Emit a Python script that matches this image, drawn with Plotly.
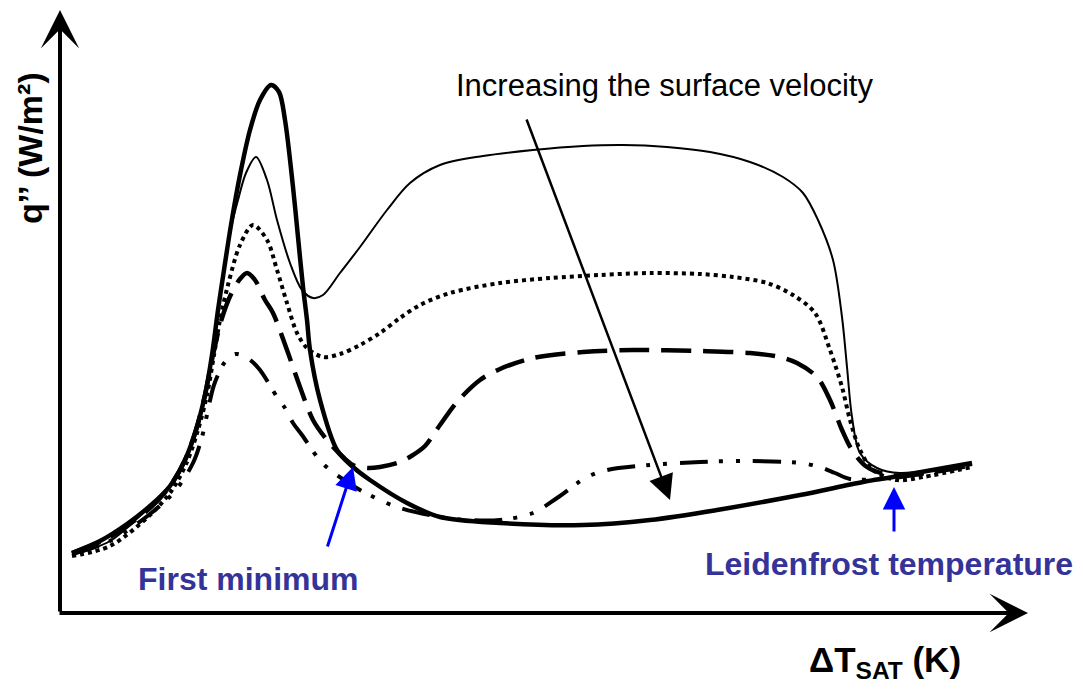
import plotly.graph_objects as go

# Schematic boiling curve: q'' vs ΔT_SAT (arbitrary units)
thick_x = [12, 40, 67, 90, 110, 125, 136, 145, 152, 158, 164, 171, 180, 190, 200, 211, 219, 225, 233, 238, 243, 247, 250, 260, 277, 293, 310, 347, 380, 440, 523, 590, 657, 740, 803, 833, 912]
thick_y = [60, 72, 89, 107, 127, 153, 183, 218, 258, 303, 343, 388, 438, 483, 513, 528, 521, 493, 426, 376, 326, 293, 263, 213, 163, 146, 133, 110, 96, 90, 88, 93, 103, 118, 131, 136, 150]

thin_x = [12, 50, 90, 110, 125, 136, 145, 152, 158, 164, 171, 178, 186, 196, 207, 217, 230, 242, 253, 263, 280, 300, 327, 350, 380, 423, 473, 523, 563, 607, 650, 690, 723, 743, 758, 773, 782, 787, 792, 800, 817, 840, 912]
thin_y = [58, 72, 107, 127, 153, 183, 218, 258, 303, 343, 385, 413, 440, 456, 433, 393, 350, 323, 315, 318, 340, 366, 403, 430, 448, 457, 463, 467, 468, 466, 461, 451, 436, 420, 393, 353, 296, 246, 196, 160, 145, 140, 150]

dot_x = [12, 50, 90, 112, 127, 138, 147, 154, 160, 168, 180, 193, 207, 217, 227, 237, 247, 263, 280, 300, 320, 340, 360, 390, 440, 490, 540, 590, 640, 673, 707, 733, 755, 770, 782, 790, 800, 813, 837, 863, 912]
dot_y = [57, 67, 98, 123, 151, 183, 218, 258, 293, 328, 368, 388, 373, 343, 310, 280, 265, 256, 259, 268, 280, 295, 308, 320, 330, 335, 338, 340, 339, 336, 330, 318, 300, 263, 226, 193, 163, 143, 133, 136, 146]

dash_x = [12, 50, 90, 110, 125, 136, 145, 153, 162, 172, 180, 187, 195, 205, 213, 227, 240, 253, 267, 283, 293, 307, 320, 340, 353, 365, 380, 397, 420, 440, 473, 523, 573, 640, 690, 720, 737, 757, 770, 782, 792, 807, 830, 860, 912]
dash_y = [60, 76, 105, 127, 153, 183, 218, 258, 295, 321, 334, 340, 333, 313, 300, 263, 226, 193, 173, 156, 148, 145, 146, 151, 158, 167, 188, 211, 233, 244, 255, 261, 263, 262, 260, 256, 250, 236, 213, 183, 163, 146, 138, 139, 148]

dd_x = [12, 50, 90, 115, 133, 142, 148, 154, 165, 176, 190, 200, 217, 225, 233, 242, 258, 270, 300, 337, 380, 407, 440, 473, 497, 527, 547, 590, 640, 690, 740, 760, 775, 790, 833, 912]
dd_y = [59, 72, 99, 122, 150, 176, 203, 228, 251, 259, 253, 243, 216, 205, 190, 178, 155, 143, 123, 106, 96, 93, 93, 100, 115, 136, 143, 148, 151, 152, 150, 146, 140, 134, 135, 149]

# Annotation positions (data units)
x_axis_end = 968
y_axis_end = 603
velocity_arrow = {"tail": (466, 495), "tip": (610, 113)}
first_min_arrow = {"tail": (267, 65), "tip": (293, 146)}
leiden_arrow = {"tail": (834, 80), "tip": (834, 126)}

BLUE_TEXT = "#333399"
FONT = "Liberation Sans, Arial, sans-serif"

fig = go.Figure()

def add_curve(x, y, width, dash):
    fig.add_trace(go.Scatter(
        x=x, y=y, mode="lines",
        line=dict(color="black", width=width, dash=dash, shape="spline", smoothing=0.9),
        hoverinfo="skip", showlegend=False,
    ))

add_curve(dd_x, dd_y, 4, "28px,11px,4px,13px,4px,13px")
add_curve(dash_x, dash_y, 4.5, "30px,12px")
add_curve(dot_x, dot_y, 4, "4px,4px")
add_curve(thin_x, thin_y, 2, "solid")
add_curve(thick_x, thick_y, 4.5, "solid")

def arrow(tail, tip, color, width, head, size):
    fig.add_annotation(
        x=tip[0], y=tip[1], ax=tail[0], ay=tail[1],
        xref="x", yref="y", axref="x", ayref="y",
        showarrow=True, arrowhead=head, arrowsize=size, arrowwidth=width,
        arrowcolor=color, standoff=0, startstandoff=0, text="",
    )

# axes as arrows
arrow((0, 0), (0, y_axis_end), "black", 4, 3, 1.6)
arrow((-2, 0), (x_axis_end, 0), "black", 4, 3, 1.6)
arrow(velocity_arrow["tail"], velocity_arrow["tip"], "black", 2.5, 2, 2)
arrow(first_min_arrow["tail"], first_min_arrow["tip"], "blue", 3, 2, 1.5)
arrow(leiden_arrow["tail"], leiden_arrow["tip"], "blue", 3, 2, 1.5)

def label(x, y, text, size, color="black", angle=0):
    fig.add_annotation(x=x, y=y, xref="x", yref="y", text=text, showarrow=False,
                       textangle=angle, xanchor="center", yanchor="middle",
                       font=dict(family=FONT, size=size, color=color))

label(604, 528, "Increasing the surface velocity", 31)
label(188, 34, "<b>First minimum</b>", 32, BLUE_TEXT)
label(829, 49, "<b>Leidenfrost temperature</b>", 32, BLUE_TEXT)
label(825, -49, "<b>ΔT<sub>SAT</sub> (K)</b>", 35)
label(-30, 465, "<b>q’’ (W/m²)</b>", 34, angle=-90)

fig.update_layout(
    width=1083, height=693,
    margin=dict(l=0, r=0, t=0, b=0),
    paper_bgcolor="white", plot_bgcolor="white",
    xaxis=dict(range=[-60, 1023], visible=False, fixedrange=True),
    yaxis=dict(range=[-80, 613], visible=False, fixedrange=True),
)

fig.write_html("out.html", config={"displayModeBar": False},
               post_script="document.body.style.margin='0';")
